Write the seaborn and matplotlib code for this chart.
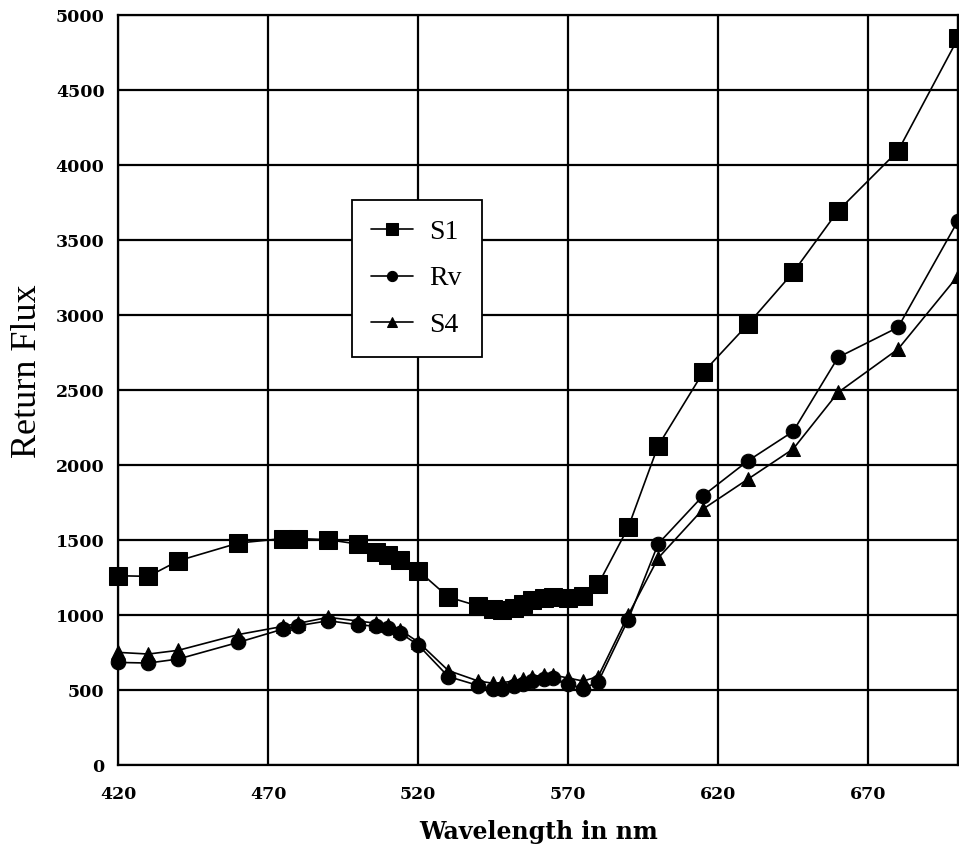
import matplotlib
matplotlib.use("Agg")
import matplotlib.pyplot as plt
import seaborn as sns
import pandas as pd
from matplotlib.ticker import MultipleLocator, FixedLocator

# ---- data ----
wavelength = [420, 430, 440, 460, 475, 480, 490, 500, 506, 510, 514, 520, 530, 540,
              545, 548, 552, 555, 558, 562, 565, 570, 575, 580, 590, 600, 615, 630,
              645, 660, 680, 700]
s1 = [1262, 1258, 1362, 1480, 1510, 1510, 1502, 1473, 1420, 1400, 1370, 1296, 1120, 1060,
      1040, 1035, 1045, 1075, 1100, 1115, 1120, 1115, 1125, 1205, 1584, 2129, 2618, 2940,
      3284, 3695, 4095, 4845]
rv = [684, 680, 707, 818, 907, 929, 962, 935, 925, 915, 880, 800, 590, 530,
      505, 510, 525, 540, 560, 575, 580, 540, 510, 555, 970, 1475, 1796, 2029,
      2224, 2718, 2918, 3629]
s4 = [751, 740, 765, 870, 925, 945, 985, 960, 945, 935, 900, 820, 630, 560,
      545, 550, 560, 575, 590, 600, 600, 580, 560, 590, 1000, 1380, 1707, 1907,
      2107, 2484, 2773, 3262]
series_names = ["S1", "Rv", "S4"]
x_tick_labels = [420, 470, 520, 570, 620, 670]
y_tick_labels = [0, 500, 1000, 1500, 2000, 2500, 3000, 3500, 4000, 4500, 5000]

df = pd.concat([
    pd.DataFrame({"wl": wavelength, "flux": s1, "series": "S1"}),
    pd.DataFrame({"wl": wavelength, "flux": rv, "series": "Rv"}),
    pd.DataFrame({"wl": wavelength, "flux": s4, "series": "S4"}),
])

sns.set_style("white")
plt.rcParams["font.family"] = ["DejaVu Serif"]
plt.rcParams["text.color"] = "black"
plt.rcParams["axes.labelcolor"] = "black"
plt.rcParams["xtick.color"] = "black"
plt.rcParams["ytick.color"] = "black"

fig = plt.figure(figsize=(9.59, 8.46), dpi=100)
ax = fig.add_axes([0.1235, 0.0957, 0.8755, 0.8865])

marker_map = {"S1": "s", "Rv": "o", "S4": "^"}
size_map = {"S1": 12.5, "Rv": 10.5, "S4": 10.5}
for name in series_names:
    sub = df[df["series"] == name]
    sns.lineplot(data=sub, x="wl", y="flux", ax=ax, color="black", marker=marker_map[name],
                 markersize=size_map[name], markeredgecolor="black", markerfacecolor="black",
                 linewidth=1.2, label=name, clip_on=False, zorder=3)

ax.set_xlim(420, 700)
ax.set_ylim(0, 5000)
ax.xaxis.set_major_locator(FixedLocator(x_tick_labels + [700]))
ax.set_xticklabels([str(v) for v in x_tick_labels] + [""])
ax.xaxis.set_minor_locator(MultipleLocator(10))
ax.yaxis.set_major_locator(FixedLocator(y_tick_labels))
ax.set_yticklabels([str(v) for v in y_tick_labels])
ax.yaxis.set_minor_locator(MultipleLocator(100))

ax.grid(True, which="major", color="black", linewidth=1.6)
ax.set_axisbelow(True)
for sp in ax.spines.values():
    sp.set_color("black")
    sp.set_linewidth(1.6)

ax.tick_params(axis="both", which="major", direction="out", length=7, width=1.3,
               color="black", labelcolor="black", labelsize=12.5)
ax.tick_params(axis="x", which="major", pad=8)
ax.tick_params(axis="y", which="major", pad=3)
ax.tick_params(axis="both", which="minor", direction="out", length=5, width=1.1,
               color="black")
for lab in ax.get_xticklabels() + ax.get_yticklabels():
    lab.set_fontweight("heavy")
    lab.set_family("DejaVu Serif")
    lab.set_color("black")

ax.set_xlabel("Wavelength in nm", fontsize=17, fontweight="bold",
              family="DejaVu Serif", color="black", labelpad=12)
ax.set_ylabel("Return Flux", fontsize=26, family="Liberation Serif", color="black")
ax.yaxis.set_label_coords(-0.0885, 0.525)

leg = ax.legend(loc="upper left", bbox_to_anchor=(0.278, 0.753), frameon=True,
                fancybox=False, edgecolor="black", framealpha=1,
                prop={"family": "Liberation Serif", "size": 20},
                markerscale=0.7, handlelength=1.5, handletextpad=0.6,
                labelspacing=0.75, borderpad=0.7, borderaxespad=0)
leg.get_frame().set_linewidth(1.3)
for t in leg.get_texts():
    t.set_color("black")

fig.savefig("out.png", dpi=100)
